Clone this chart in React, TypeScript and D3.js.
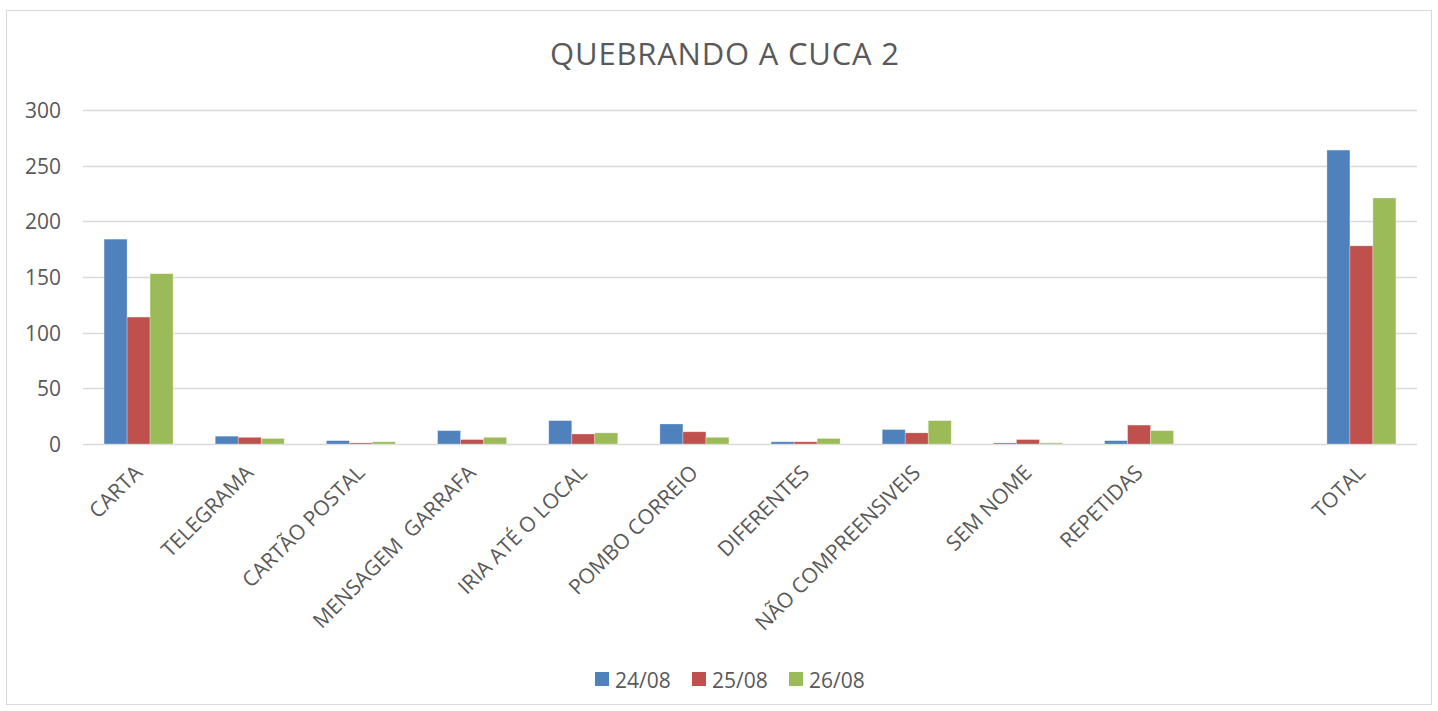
import React, { useEffect, useRef } from 'react';
import * as d3 from 'd3';

const categories = [
  'CARTA', 'TELEGRAMA', 'CARTÃO POSTAL', 'MENSAGEM  GARRAFA', 'IRIA ATÉ O LOCAL',
  'POMBO CORREIO', 'DIFERENTES', 'NÃO COMPREENSIVEIS', 'SEM NOME', 'REPETIDAS', '', 'TOTAL',
];
const seriesNames = ['24/08', '25/08', '26/08'];
const s2408 = [184, 7, 3, 12, 21, 18, 2, 13, 1, 3, 0, 264];
const s2508 = [114, 6, 1, 4, 9, 11, 2, 10, 4, 17, 0, 178];
const s2608 = [153, 5, 2, 6, 10, 6, 5, 21, 1, 12, 0, 221];
const colors = ['#4F81BD', '#C0504D', '#9BBB59'];
const yTicks = [0, 50, 100, 150, 200, 250, 300];

const W = 1438;
const H = 711;
const FONT = '"Open Sans", sans-serif';
const TXT = '#595959';

export default function App() {
  const ref = useRef<SVGSVGElement>(null);

  useEffect(() => {
    const svg = d3.select(ref.current);
    svg.selectAll('*').remove();

    const left = 83, right = 1417, top = 110, bottom = 444;
    const values = [s2408, s2508, s2608];

    const x = d3.scaleBand().domain(categories.map((_, i) => String(i))).range([left, right]);
    const inner = d3.scaleBand().domain(seriesNames).range([0, 69]);
    const y = d3.scaleLinear().domain([0, 300]).range([bottom, top]);

    // frame
    svg.append('rect').attr('x', 6.5).attr('y', 10.5).attr('width', 1425).attr('height', 694)
      .attr('fill', '#fff').attr('stroke', '#d9d9d9');

    svg.append('text').attr('x', 725).attr('y', 65).attr('text-anchor', 'middle')
      .attr('font-family', FONT).attr('font-size', 31).attr('letter-spacing', 0.8).attr('fill', TXT)
      .text('QUEBRANDO A CUCA 2');

    // grid + y labels
    const g = svg.append('g');
    g.selectAll('line.grid').data(yTicks).enter().append('line')
      .attr('x1', left).attr('x2', right)
      .attr('y1', (d) => Math.round(y(d)) + 0.5).attr('y2', (d) => Math.round(y(d)) + 0.5)
      .attr('stroke', '#d9d9d9').attr('stroke-width', 1.3);
    g.selectAll('text.yl').data(yTicks).enter().append('text')
      .attr('x', 61).attr('y', (d) => y(d) + 8).attr('text-anchor', 'end')
      .attr('font-family', FONT).attr('font-size', 21).attr('fill', TXT)
      .text((d) => d);

    // bars
    values.forEach((vals, si) => {
      svg.append('g').selectAll('rect').data(vals).enter().append('rect')
        .attr('x', (_, i) => (x(String(i)) as number) + (x.bandwidth() - 69) / 2 + (inner(seriesNames[si]) as number))
        .attr('width', inner.bandwidth())
        .attr('y', (d) => y(d))
        .attr('height', (d) => bottom - y(d))
        .attr('fill', colors[si])
        .attr('stroke', '#ffffff').attr('stroke-opacity', 0.35).attr('stroke-width', 0.8);
    });

    // x labels
    svg.append('g').selectAll('text').data(categories).enter().append('text')
      .attr('transform', (_, i) => {
        const cx = (x(String(i)) as number) + x.bandwidth() / 2 + 5;
        return `translate(${cx},${474}) rotate(-45)`;
      })
      .attr('text-anchor', 'end')
      .attr('font-family', FONT).attr('font-size', 21).attr('fill', TXT)
      .style('white-space', 'pre')
      .text((d) => d);

    // legend
    const lg = svg.append('g');
    const starts = [595, 692, 789];
    seriesNames.forEach((n, i) => {
      lg.append('rect').attr('x', starts[i]).attr('y', 672).attr('width', 14).attr('height', 14).attr('fill', colors[i]);
      lg.append('text').attr('x', starts[i] + 20).attr('y', 688)
        .attr('font-family', FONT).attr('font-size', 21).attr('fill', TXT).text(n);
    });
  }, []);

  return <svg ref={ref} width={W} height={H} style={{ display: 'block', position: 'absolute', left: 0, top: 0 }} />;
}
